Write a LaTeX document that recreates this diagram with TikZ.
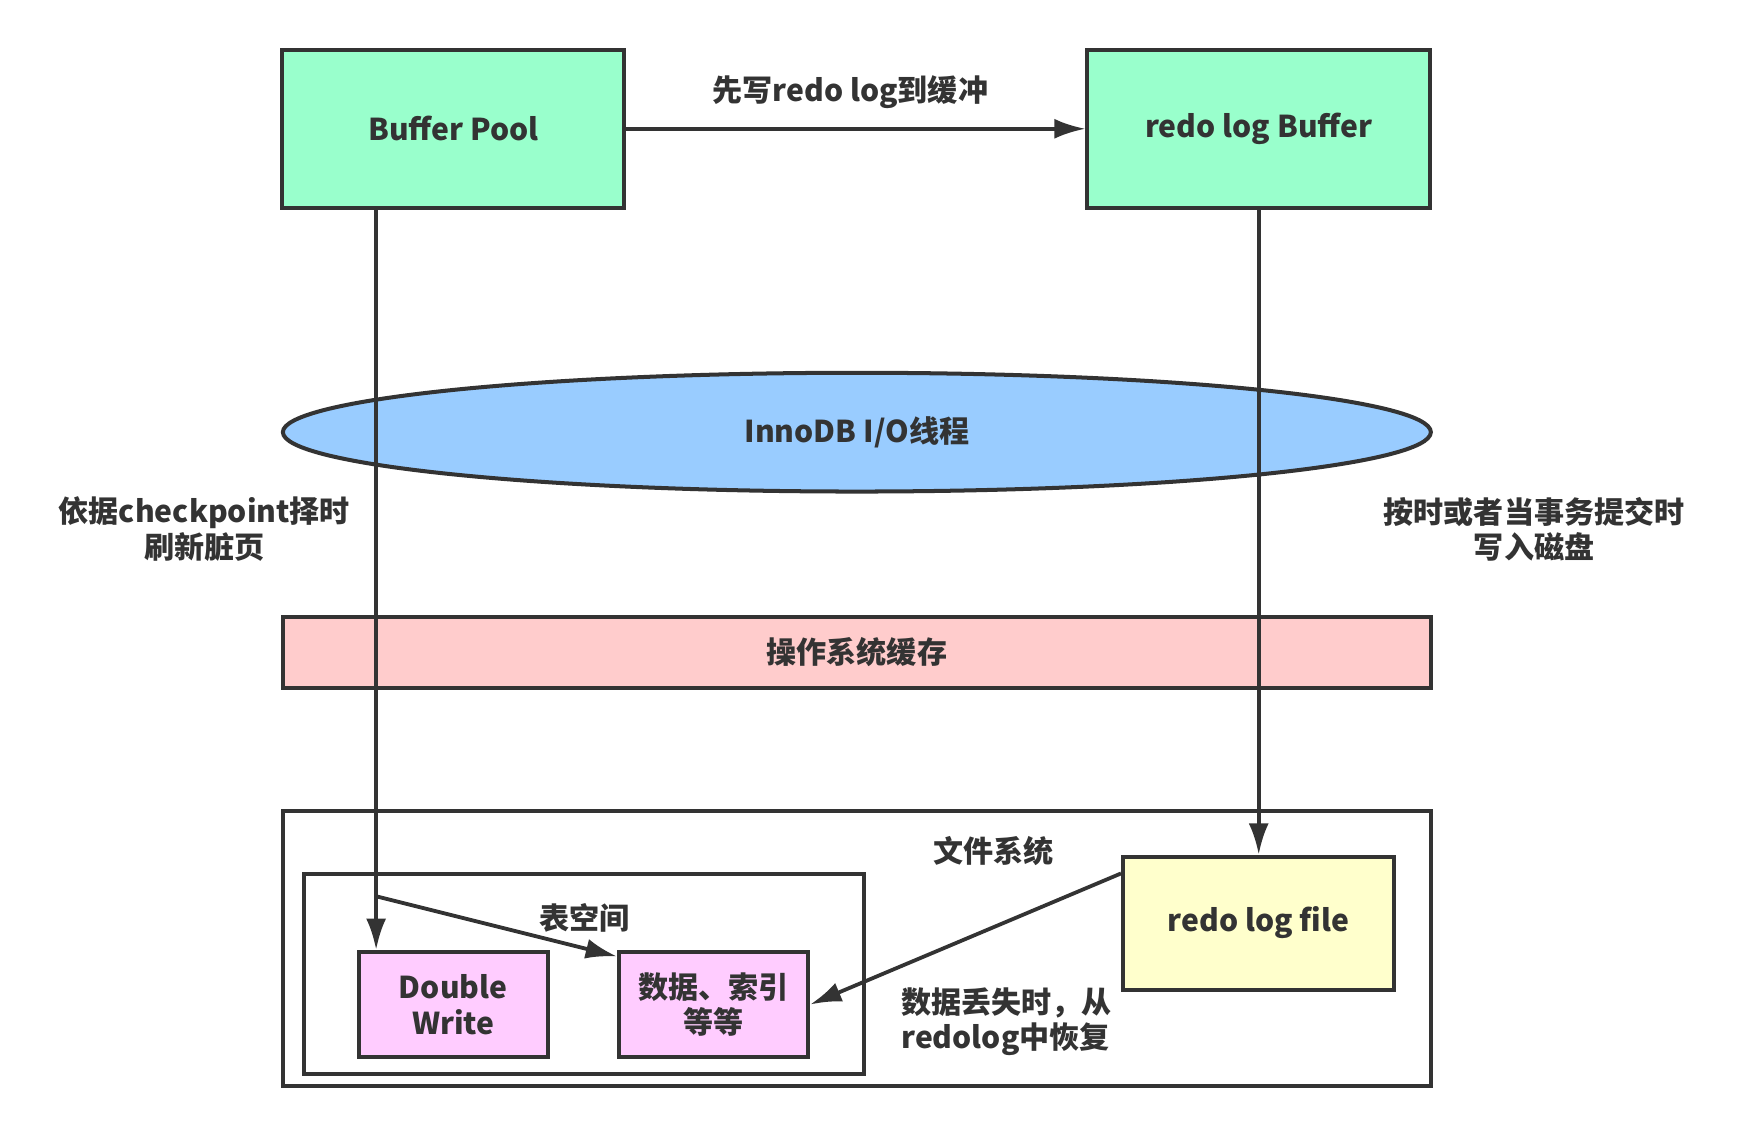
\documentclass[tikz,border=0pt]{standalone}
\usepackage{fontspec}
\setmainfont{Noto Sans CJK SC}
\usetikzlibrary{shapes.geometric,arrows.meta}
\definecolor{ink}{HTML}{333333}
\definecolor{poolgreen}{HTML}{99FFCC}
\definecolor{threadblue}{HTML}{99CCFF}
\definecolor{cachepink}{HTML}{FFCCCC}
\definecolor{pagemagenta}{HTML}{FFCCFF}
\definecolor{fileyellow}{HTML}{FFFFCC}
\begin{document}
\begin{tikzpicture}[x=0.5pt,y=-0.5pt,
  every node/.style={font=\fontsize{13.5}{16}\selectfont\bfseries, text=ink},
  box/.style={draw=ink, line width=1.8pt, inner sep=0pt, align=center},
  arr/.style={draw=ink, line width=1.7pt, -{Latex[length=14pt,width=9pt]}}]
\useasboundingbox (0,0) rectangle (1560,1020);
% top buffers
\node[box, fill=poolgreen, minimum width=153.7pt, minimum height=70.7pt] (bp) at (406.8,115.6) {Buffer Pool};
\node[box, fill=poolgreen, minimum width=153.7pt, minimum height=70.7pt] (rlb) at (1129.8,115.6) {redo log Buffer};
\draw[arr] (bp.east) -- (rlb.west);
\node at (763.3,82.7) {先写redo log到缓冲};
% io thread and os cache
\node[box, ellipse, fill=threadblue, minimum width=515.2pt, minimum height=53.3pt] (io) at (769.1,387.9) {InnoDB I/O线程};
\node[box, fill=cachepink, minimum width=515.2pt, minimum height=31.9pt] (osc) at (769.1,585.5) {操作系统缓存};
% file system
\node[box, fill=white, minimum width=515.2pt, minimum height=123.5pt] (fs) at (769.1,851.3) {};
\node at (891.6,763.7) {文件系统};
\node[box, minimum width=251.1pt, minimum height=89.6pt] (ts) at (524.1,874.3) {};
\node at (524.6,823.7) {表空间};
\node[box, fill=pagemagenta, minimum width=85pt, minimum height=47.3pt] (dw) at (406.8,901.6) {Double\\Write};
\node[box, fill=pagemagenta, minimum width=85pt, minimum height=47.3pt] (data) at (640.5,901.6) {数据、索引\\等等};
\node[box, fill=fileyellow, minimum width=121.8pt, minimum height=59.7pt] (rlf) at (1129.8,828.5) {redo log file};
% flush paths
\coordinate (tap) at (337.6,804.5);
\draw[arr] (bp.south -| tap) -- (dw.north -| tap);
\draw[arr] (tap) -- ([yshift=-3pt]data.north west);
\draw[arr] (rlb.south) -- (rlf.north);
\draw[arr] ([yshift=-8.5pt]rlf.north west) -- (data.east);
\node[align=center] at (183.5,475) {依据checkpoint择时\\刷新脏页};
\node[align=center] at (1377,475) {按时或者当事务提交时\\写入磁盘};
\node[align=left] at (903.6,917.1) {数据丢失时，从\\redolog中恢复};
\end{tikzpicture}
\end{document}
